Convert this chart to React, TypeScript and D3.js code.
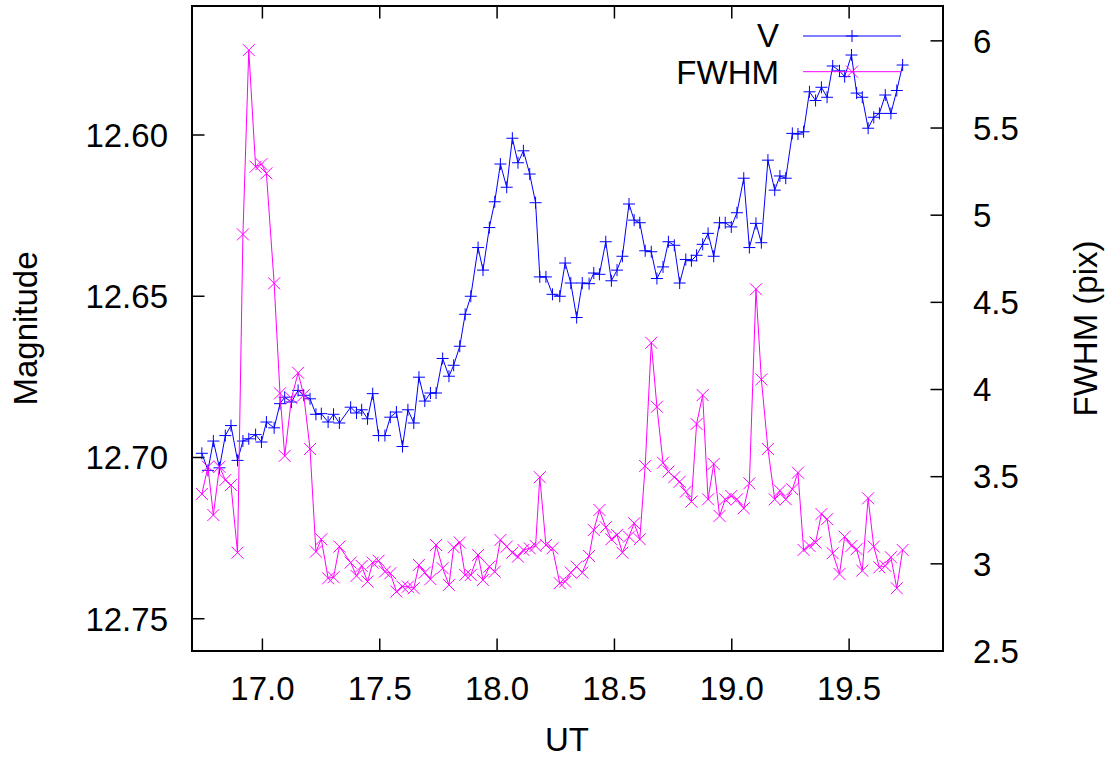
import React from 'react';
import * as d3 from 'd3';

// UT (hours) shared by both series
const ut = [
  16.742, 16.768, 16.791, 16.817, 16.842, 16.866, 16.894, 16.917, 16.942, 16.971,
  16.996, 17.017, 17.050, 17.075, 17.095, 17.124, 17.152, 17.176, 17.203, 17.228,
  17.251, 17.280, 17.303, 17.328, 17.376, 17.401, 17.423, 17.448, 17.470, 17.495,
  17.522, 17.545, 17.571, 17.597, 17.620, 17.645, 17.667, 17.692, 17.716, 17.740,
  17.768, 17.795, 17.815, 17.841, 17.864, 17.888, 17.919, 17.940, 17.967, 17.990,
  18.014, 18.041, 18.065, 18.089, 18.112, 18.139, 18.164, 18.182, 18.208, 18.236,
  18.267, 18.290, 18.314, 18.339, 18.363, 18.392, 18.412, 18.436, 18.463, 18.487,
  18.511, 18.534, 18.562, 18.584, 18.608, 18.631, 18.657, 18.681, 18.707, 18.730,
  18.755, 18.778, 18.804, 18.828, 18.850, 18.876, 18.899, 18.923, 18.948, 18.972,
  18.998, 19.022, 19.051, 19.075, 19.103, 19.126, 19.154, 19.183, 19.205, 19.230,
  19.258, 19.282, 19.306, 19.331, 19.357, 19.382, 19.406, 19.430, 19.459, 19.481,
  19.510, 19.532, 19.556, 19.581, 19.605, 19.629, 19.654, 19.678, 19.703, 19.728,
];

// V magnitude
const vMag = [
  12.6987, 12.7040, 12.6949, 12.7032, 12.6932, 12.6901, 12.7009, 12.6949, 12.6942, 12.6929,
  12.6952, 12.6890, 12.6908, 12.6833, 12.6813, 12.6828, 12.6792, 12.6807, 12.6818, 12.6866,
  12.6864, 12.6890, 12.6866, 12.6893, 12.6844, 12.6862, 12.6852, 12.6880, 12.6802, 12.6932,
  12.6932, 12.6875, 12.6859, 12.6966, 12.6852, 12.6893, 12.6751, 12.6825, 12.6800, 12.6800,
  12.6693, 12.6748, 12.6714, 12.6655, 12.6556, 12.6500, 12.6349, 12.6419, 12.6287, 12.6207,
  12.6090, 12.6162, 12.6010, 12.6086, 12.6049, 12.6121, 12.6210, 12.6440, 12.6440, 12.6494,
  12.6500, 12.6397, 12.6459, 12.6566, 12.6459, 12.6461, 12.6428, 12.6432, 12.6331, 12.6452,
  12.6419, 12.6376, 12.6214, 12.6264, 12.6272, 12.6359, 12.6362, 12.6445, 12.6409, 12.6331,
  12.6342, 12.6459, 12.6386, 12.6390, 12.6373, 12.6339, 12.6305, 12.6376, 12.6272, 12.6272,
  12.6285, 12.6241, 12.6134, 12.6349, 12.6274, 12.6334, 12.6078, 12.6171, 12.6127, 12.6134,
  12.5995, 12.5997, 12.5990, 12.5866, 12.5893, 12.5852, 12.5883, 12.5786, 12.5801, 12.5819,
  12.5752, 12.5870, 12.5883, 12.5979, 12.5945, 12.5933, 12.5876, 12.5933, 12.5862, 12.5783,
];

// FWHM (pix)
const fwhm = [
  3.401, 3.557, 3.280, 3.557, 3.481, 3.452, 3.064, 4.890, 5.947, 5.278,
  5.293, 5.240, 4.609, 3.978, 3.619, 3.950, 4.096, 3.968, 3.659, 3.070,
  3.141, 2.917, 2.923, 3.099, 3.007, 2.931, 2.988, 2.898, 3.007, 3.018,
  2.955, 2.946, 2.841, 2.869, 2.869, 2.860, 2.994, 2.950, 2.912, 3.108,
  2.975, 2.879, 3.095, 3.122, 2.936, 2.936, 3.051, 2.908, 2.984, 2.955,
  3.137, 3.099, 3.064, 3.041, 3.080, 3.089, 3.103, 3.497, 3.108, 3.089,
  2.889, 2.898, 2.950, 2.984, 2.950, 3.045, 3.194, 3.309, 3.210, 3.141,
  3.166, 3.064, 3.156, 3.233, 3.141, 3.561, 4.268, 3.901, 3.580, 3.529,
  3.497, 3.471, 3.414, 3.357, 3.802, 3.968, 3.370, 3.573, 3.275, 3.370,
  3.389, 3.370, 3.319, 3.462, 4.575, 4.058, 3.659, 3.370, 3.420, 3.370,
  3.428, 3.523, 3.080, 3.103, 3.122, 3.286, 3.256, 3.061, 2.942, 3.156,
  3.103, 3.084, 2.961, 3.376, 3.099, 2.980, 2.988, 3.038, 2.860, 3.080,
];

const xTicks = [17.0, 17.5, 18.0, 18.5, 19.0, 19.5];
const magTicks = [12.6, 12.65, 12.7, 12.75];
const fwhmTicks = [2.5, 3, 3.5, 4, 4.5, 5, 5.5, 6];

const W = 1115;
const H = 760;
const L = 192, R = 943, T = 6, B = 651;
const FONT = "'Liberation Sans', Arial, Helvetica, sans-serif";
const FS = 33;
const BLUE = '#0000ff';
const MAGENTA = '#ff00ff';
const TICK = 12.5;

const plusPath = (x: number, y: number, s = 6) => `M${x - s},${y}h${2 * s}M${x},${y - s}v${2 * s}`;
const crossPath = (x: number, y: number, s = 6) => `M${x - s},${y - s}l${2 * s},${2 * s}M${x - s},${y + s}l${2 * s},${-2 * s}`;

export default function App() {
  const x = d3.scaleLinear().domain([16.7, 19.9]).range([L, R]);
  const yMag = d3.scaleLinear().domain([12.56, 12.76]).range([T, B]);
  const yF = d3.scaleLinear().domain([2.5, 6.2]).range([B, T]);

  const vPts: [number, number][] = ut.map((t, i) => [x(t), yMag(vMag[i])]);
  const fPts: [number, number][] = ut.map((t, i) => [x(t), yF(fwhm[i])]);
  const line = d3.line<[number, number]>();

  const fmtMag = d3.format('.2f');
  const fmtX = d3.format('.1f');

  const legY1 = 36, legY2 = 71.7;
  const legX0 = 803, legX1 = 901, legMid = (803 + 901) / 2;

  return (
    <svg width={W} height={H} style={{ position: 'absolute', left: 0, top: 0, display: 'block', background: '#fff' }}
      fontFamily={FONT} fontSize={FS}>
      <rect x={0} y={0} width={W} height={H} fill="#fff" />
      <defs>
        <clipPath id="plotclip">
          <rect x={L} y={T} width={R - L} height={B - T} />
        </clipPath>
      </defs>

      {/* bottom/top ticks */}
      {xTicks.map((t) => (
        <g key={'x' + t}>
          <line x1={x(t)} x2={x(t)} y1={B} y2={B - TICK} stroke="#000" strokeWidth={1.5} />
          <line x1={x(t)} x2={x(t)} y1={T} y2={T + TICK} stroke="#000" strokeWidth={1.5} />
          <text x={x(t)} y={700} textAnchor="middle" fill="#000">{fmtX(t)}</text>
        </g>
      ))}
      {/* left ticks */}
      {magTicks.map((m) => (
        <g key={'m' + m}>
          <line x1={L} x2={L + TICK} y1={yMag(m)} y2={yMag(m)} stroke="#000" strokeWidth={1.5} />
          <text x={168} y={yMag(m) + 11.8} textAnchor="end" fill="#000">{fmtMag(m)}</text>
        </g>
      ))}
      {/* right ticks */}
      {fwhmTicks.map((f) => (
        <g key={'f' + f}>
          <line x1={R} x2={R - TICK} y1={yF(f)} y2={yF(f)} stroke="#000" strokeWidth={1.5} />
          <text x={973} y={yF(f) + 11.8} textAnchor="start" fill="#000">{String(f)}</text>
        </g>
      ))}

      {/* series */}
      <g clipPath="url(#plotclip)">
        <path d={line(vPts) || ''} fill="none" stroke={BLUE} strokeWidth={1} />
        <path d={vPts.map(([px, py]) => plusPath(px, py)).join('')} fill="none" stroke={BLUE} strokeWidth={1} />
        <path d={line(fPts) || ''} fill="none" stroke={MAGENTA} strokeWidth={1} />
        <path d={fPts.map(([px, py]) => crossPath(px, py)).join('')} fill="none" stroke={MAGENTA} strokeWidth={1} />
      </g>

      {/* legend */}
      <text x={779} y={47} textAnchor="end" fill="#000">V</text>
      <line x1={legX0} x2={legX1} y1={legY1} y2={legY1} stroke={BLUE} strokeWidth={1} />
      <path d={plusPath(legMid, legY1)} stroke={BLUE} strokeWidth={1} fill="none" />
      <text x={779} y={83.5} textAnchor="end" fill="#000">FWHM</text>
      <line x1={legX0} x2={legX1} y1={legY2} y2={legY2} stroke={MAGENTA} strokeWidth={1} />
      <path d={crossPath(legMid, legY2)} stroke={MAGENTA} strokeWidth={1} fill="none" />

      {/* frame */}
      <rect x={L} y={T} width={R - L} height={B - T} fill="none" stroke="#000" strokeWidth={2} />

      {/* axis titles */}
      <text x={567} y={751} textAnchor="middle" fill="#000">UT</text>
      <text transform={`translate(37,${(T + B) / 2}) rotate(-90)`} textAnchor="middle" fill="#000">Magnitude</text>
      <text transform={`translate(1097,${(T + B) / 2}) rotate(-90)`} textAnchor="middle" fill="#000">FWHM (pix)</text>
    </svg>
  );
}
